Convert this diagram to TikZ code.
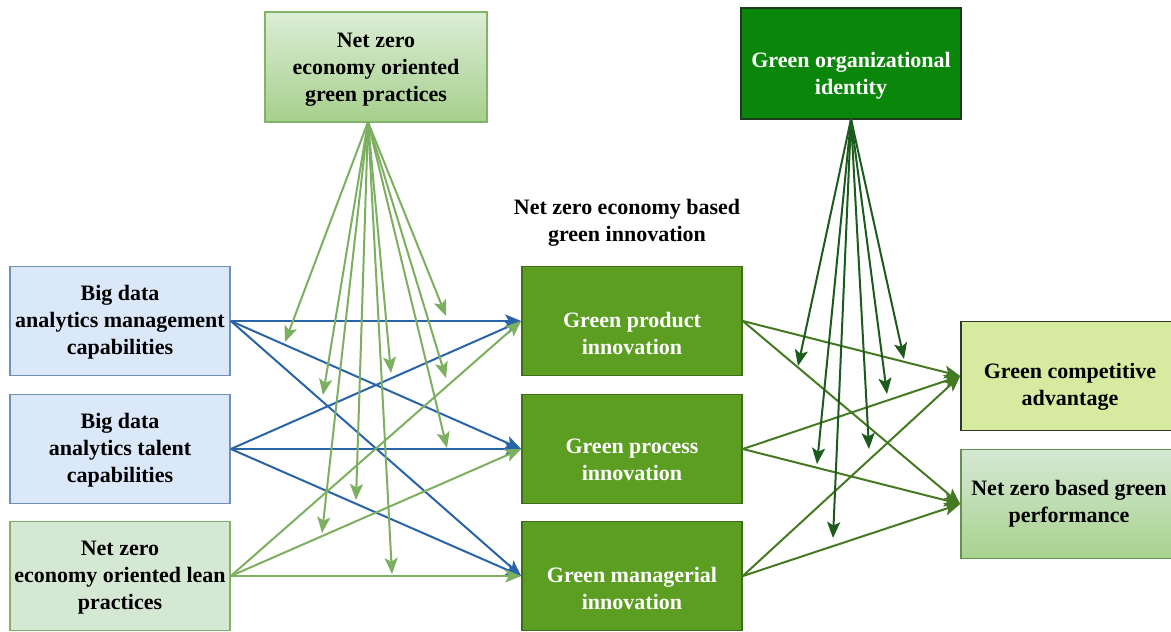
\documentclass[tikz,border=0pt]{standalone}
\usepackage{fontspec}
\setmainfont{Liberation Serif}
\usetikzlibrary{arrows.meta,shadings}
\definecolor{bluefill}{HTML}{DAE8FA}
\definecolor{blueline}{HTML}{7090BC}
\definecolor{lgfill}{HTML}{D5E8D4}
\definecolor{lgline}{HTML}{82B366}
\definecolor{gptop}{HTML}{DCEDD6}
\definecolor{gpbot}{HTML}{A6CF8C}
\definecolor{midgreen}{HTML}{5B9E22}
\definecolor{midline}{HTML}{3E6E1A}
\definecolor{darkgreen}{HTML}{0A870A}
\definecolor{darkline}{HTML}{1E3A1E}
\definecolor{gcafill}{HTML}{D6EAA0}
\definecolor{nzbot}{HTML}{A8D28E}
\definecolor{arrblue}{HTML}{2A64A8}
\definecolor{arrlg}{HTML}{7DAF60}
\definecolor{arrmed}{HTML}{437A22}
\definecolor{arrdark}{HTML}{1D5A1D}
\begin{document}
\begin{tikzpicture}[x=0.5pt,y=-0.5pt,
  box/.style={draw, line width=0.8pt, minimum width=110pt, minimum height=54.5pt,
    align=center, inner sep=2pt, font=\bfseries\fontsize{11}{13.5}\selectfont},
  bluebox/.style={box, fill=bluefill, draw=blueline},
  leanbox/.style={box, fill=lgfill, draw=lgline},
  gpbox/.style={box, top color=gptop, bottom color=gpbot, draw=lgline, minimum width=111pt, minimum height=55pt},
  midbox/.style={box, fill=midgreen, draw=midline},
  goibox/.style={box, fill=darkgreen, draw=darkline, minimum height=55.5pt},
  gcabox/.style={box, fill=gcafill, draw=black!80},
  nzbox/.style={box, top color=lgfill, bottom color=nzbot, draw=lgline!80!black},
  boxtext/.style={align=center, inner sep=0pt, font=\bfseries\fontsize{11}{13.5}\selectfont},
  whitetext/.style={boxtext, text=white},
  arr/.style={-{Stealth[length=8pt,width=6.5pt,inset=1.8pt]}, line width=1pt},
  lbl/.style={align=center, font=\bfseries\fontsize{11}{13.5}\selectfont}
]
\clip (0,0) rectangle (1171,631);
\fill[white] (0,0) rectangle (1171,631);

% boxes
\node[bluebox] (bdm) at (120,321) {};
\node[boxtext] (bdmt) at (120,322) {Big data\\analytics management\\capabilities};
\node[bluebox] (bdt) at (120,449) {};
\node[boxtext] (bdtt) at (120,450) {Big data\\analytics talent\\capabilities};
\node[leanbox] (lean) at (120,576) {};
\node[boxtext] (leant) at (120,578) {Net zero\\economy oriented lean\\practices};
\node[gpbox] (gp) at (376,67) {};
\node[boxtext] (gpt) at (376,70) {Net zero\\economy oriented\\green practices};
\node[lbl] (gilbl) at (627,223) {Net zero economy based\\green innovation};
\node[midbox] (gpi) at (632,321) {};
\node[whitetext] (gpit) at (632,333) {Green product\\innovation};
\node[midbox] (gproc) at (632,449) {};
\node[whitetext] (gproct) at (632,460) {Green process\\innovation};
\node[midbox] (gmi) at (632,576) {};
\node[whitetext] (gmit) at (632,588) {Green managerial\\innovation};
\node[goibox] (goi) at (851,63.5) {};
\node[whitetext] (goit) at (851,76) {Green organizational\\identity};
\node[gcabox] (gca) at (1071,376) {};
\node[boxtext] (gcat) at (1070,387) {Green competitive\\advantage};
\node[nzbox] (nzgp) at (1071,504) {};
\node[boxtext] (nzgpt) at (1069,504) {Net zero based green\\performance};

% blue arrows
\draw[arr, arrblue] (bdm.east) -- (gpi.west);
\draw[arr, arrblue] (bdm.east) -- (gproc.west);
\draw[arr, arrblue] (bdm.east) -- (gmi.west);
\draw[arr, arrblue] (bdt.east) -- (gpi.west);
\draw[arr, arrblue] (bdt.east) -- (gproc.west);
\draw[arr, arrblue] (bdt.east) -- (gmi.west);
% lean arrows
\draw[arr, arrlg] (lean.east) -- (gpi.west);
\draw[arr, arrlg] (lean.east) -- (gproc.west);
\draw[arr, arrlg] (lean.east) -- (gmi.west);
% mediation to outcomes
\draw[arr, arrmed] (gpi.east) -- (gca.west);
\draw[arr, arrmed] (gpi.east) -- (nzgp.west);
\draw[arr, arrmed] (gproc.east) -- (gca.west);
\draw[arr, arrmed] (gproc.east) -- (nzgp.west);
\draw[arr, arrmed] (gmi.east) -- (gca.west);
\draw[arr, arrmed] (gmi.east) -- (nzgp.west);

% moderation fan: green practices
\coordinate (gpo) at (368,122);
\coordinate (m1) at (285,342);
\coordinate (m2) at (323,395);
\coordinate (m3) at (356,500);
\coordinate (m4) at (322,533);
\coordinate (m5) at (391,373);
\coordinate (m6) at (392,574);
\coordinate (m7) at (446,316);
\coordinate (m8) at (446,378);
\coordinate (m9) at (447,448);
\foreach \m in {m1,m2,m3,m4,m5,m6,m7,m8,m9}
  \draw[arr, arrlg] (gpo) -- (\m);

% moderation fan: green organizational identity
\coordinate (gio) at (851,119);
\coordinate (n1) at (798,366);
\coordinate (n2) at (817,464);
\coordinate (n3) at (833,538);
\coordinate (n4) at (869,449);
\coordinate (n5) at (887,394);
\coordinate (n6) at (904,359);
\foreach \n in {n1,n2,n3,n4,n5,n6}
  \draw[arr, arrdark] (gio) -- (\n);
\end{tikzpicture}
\end{document}
